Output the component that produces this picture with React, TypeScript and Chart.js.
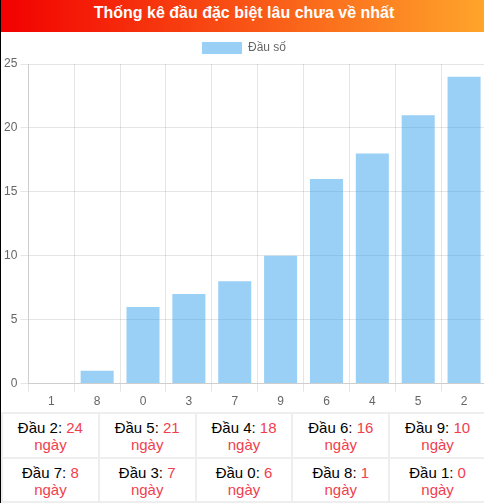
import React, { useEffect, useRef } from "react";
import { Chart, registerables } from "chart.js";

Chart.register(...registerables);

// heads in order of the bars, and how many days each has been missing
const heads = ["1", "8", "0", "3", "7", "9", "6", "4", "5", "2"];
const days = [0, 1, 6, 7, 8, 10, 16, 18, 21, 24];
const seriesLabel = "Đầu số";
const title = "Thống kê đầu đặc biệt lâu chưa về nhất";

const RED = "#f0404e";

const BarChart = () => {
  const canvasRef = useRef<HTMLCanvasElement | null>(null);

  useEffect(() => {
    if (!canvasRef.current) return;
    const chart = new Chart(canvasRef.current, {
      type: "bar",
      data: {
        labels: heads,
        datasets: [
          {
            label: seriesLabel,
            data: days,
            backgroundColor: "rgba(54, 162, 235, 0.5)",
            borderWidth: 0,
          },
        ],
      },
      options: {
        animation: false,
        responsive: true,
        maintainAspectRatio: false,
        plugins: {
          legend: {
            labels: { color: "#666", font: { size: 12 } },
          },
          tooltip: { enabled: false },
        },
        scales: {
          x: { ticks: { color: "#666", font: { size: 12 } } },
          y: {
            beginAtZero: true,
            max: 25,
            ticks: { stepSize: 5, color: "#666", font: { size: 12 } },
          },
        },
      },
    });
    return () => chart.destroy();
  }, []);

  return <canvas ref={canvasRef}></canvas>;
};

// table is sorted from longest to shortest
const order = days
  .map((d, i) => ({ head: heads[i], d }))
  .sort((a, b) => b.d - a.d);

const App = () => {
  useEffect(() => {
    document.body.style.margin = "0";
  }, []);

  const rows = [order.slice(0, 5), order.slice(5, 10)];

  return (
    <div style={{ width: 484, height: 503, overflow: "hidden" }}>
      <div
        style={{
          width: 486,
          borderLeft: "1px solid #000",
          borderBottom: "1px solid #000",
          fontFamily: "Arial, 'Liberation Sans', sans-serif",
        }}
      >
        <div
          style={{
            height: 32,
            lineHeight: "26px",
            background: "linear-gradient(to right, #f20000, #ffa62b)",
            color: "#fff",
            fontWeight: "bold",
            fontSize: 16,
            textAlign: "center",
          }}
        >
          {title}
        </div>
        <div style={{ position: "relative", height: 380 }}>
          <BarChart />
        </div>
        <table
          style={{
            width: "100%",
            borderCollapse: "collapse",
            tableLayout: "fixed",
            fontSize: 15,
          }}
        >
          <tbody>
            {rows.map((row, r) => (
              <tr key={r}>
                {row.map((c) => (
                  <td
                    key={c.head}
                    style={{
                      border: "2px solid #eee",
                      textAlign: "center",
                      height: 38.5,
                      padding: "3px 0 1px",
                      lineHeight: "17px",
                      boxSizing: "content-box",
                    }}
                  >
                    Đầu {c.head}: <span style={{ color: RED }}>{c.d}</span>
                    <br />
                    <span style={{ color: RED }}>ngày</span>
                  </td>
                ))}
              </tr>
            ))}
          </tbody>
        </table>
      </div>
    </div>
  );
};

export default App;
